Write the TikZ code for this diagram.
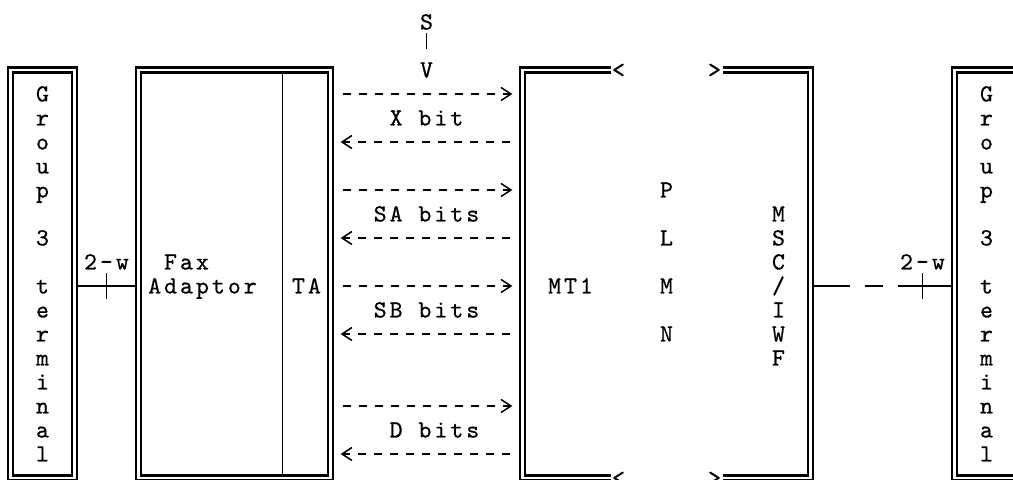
\documentclass[tikz,border=0pt]{standalone}
\usepackage{fontspec}
\newfontfamily\asciifont{lmmono10-regular.otf}[LetterSpace=12.3,FakeBold=0.6]
\usetikzlibrary{arrows.meta}
\tikzset{
    txt/.style={font=\asciifont\fontsize{14pt}{16pt}\selectfont,
        inner sep=0pt,text height=8.5pt,text depth=0pt},
    unit/.style={draw,double,line width=1.15pt,double distance=1.7pt,
        inner sep=0pt,outer sep=2pt},
    border/.style={double,line width=1.15pt,double distance=1.7pt},
    wire/.style={line width=1pt},
    bits/.style={line width=0.85pt,dash pattern=on 0.16cm off 0.16cm,
        shorten <=0.172cm,shorten >=0.132cm,
        -{Straight Barb[length=0.2cm,width=0.26cm]}}
}
\begin{document}
\begin{tikzpicture}[x=0.32cm,y=-0.48cm]
    \useasboundingbox (-0.656,-0.917) rectangle (62.656,19.083);
    \clip (-0.656,-0.917) rectangle (62.656,19.083);
    %% Group 3 terminals
    \node[unit,minimum width=1.28cm,minimum height=8.16cm] (gtl) at (2,10.5) {};
    \node[unit,minimum width=1.28cm,minimum height=8.16cm] (gtr) at (61,10.5) {};
    \foreach \ch [count=\i from 3] in {G,r,o,u,p,{},3,{},t,e,r,m,i,n,a,l} {
        \node[txt] (gl\i) at (2,\i) {\ch};
        \node[txt] (gr\i) at (61,\i) {\ch};
    }
    %% Fax adaptor and TA
    \draw[wire] (17,2) -- (17,19);
    \node[unit,minimum width=3.84cm,minimum height=8.16cm] (fax) at (14,10.5) {};
    \node[txt] (faxa) at (11,10) {Fax};
    \node[txt] (faxb) at (12,11) {Adaptor};
    \node[txt] (ta) at (18.5,11) {TA};
    %% MT1 / PLMN / MSC-IWF
    \node[inner sep=0pt,outer sep=2pt,minimum width=5.76cm,minimum height=8.16cm]
        (plmn) at (41,10.5) {};
    \draw[border] (37.5,2) -- (32,2) -- (32,19) -- (37.5,19);
    \draw[border] (44.5,2) -- (50,2) -- (50,19) -- (44.5,19);
    \foreach \r in {2,19} {
        \node[txt] (lt\r) at (38,\r) {<};
        \node[txt] (gt\r) at (44,\r) {>};
    }
    \node[txt] (mt) at (35,11) {MT1};
    \foreach \ch/\r in {P/7,L/9,M/11,N/13}
        \node[txt] (pl\r) at (41,\r) {\ch};
    \foreach \ch [count=\i from 8] in {M,S,C,/,I,W,F}
        \node[txt] (ms\i) at (48,\i) {\ch};
    %% S-V
    \node[txt] (sig) at (26,0) {S};
    \node[txt] (vee) at (26,2) {V};
    \draw[wire,shorten <=0.06cm,shorten >=0.26cm] (sig) -- (vee);
    %% Bit streams
    \foreach \r in {3,7,11,16}
        \draw[bits] (fax.east |- 0,\r) -- (plmn.west |- 0,\r);
    \foreach \r in {5,9,13,18}
        \draw[bits] (plmn.west |- 0,\r) -- (fax.east |- 0,\r);
    \node[txt] (xbit) at (26,4) {X bit};
    \node[txt] (sabit) at (26,8) {SA bits};
    \node[txt] (sbbit) at (26,12) {SB bits};
    \node[txt] (dbit) at (26.5,17) {D bits};
    %% 2-wire links
    \draw[wire] (gtl.east |- 0,11) -- (fax.west |- 0,11);
    \draw[wire] (6,10.46) -- (6,11.54);
    \node[txt] (twl) at (6,10) {2-w};
    \draw[wire,dash pattern=on 0.72cm off 0.3cm on 0.36cm off 0.3cm on 3cm]
        (plmn.east |- 0,11) -- (gtr.west |- 0,11);
    \draw[wire] (57,10.46) -- (57,11.54);
    \node[txt] (twr) at (57,10) {2-w};
\end{tikzpicture}
\end{document}
